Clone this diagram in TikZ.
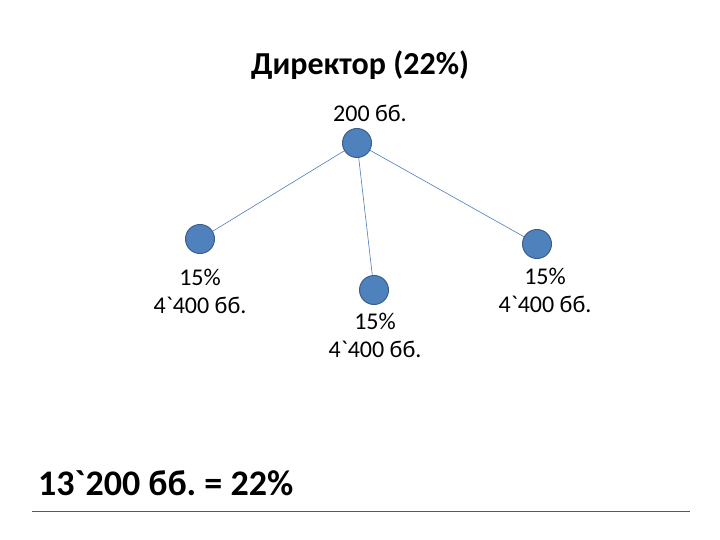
\documentclass[tikz,border=0pt]{standalone}
\usepackage{fontspec}
\setmainfont{Carlito}
\usetikzlibrary{positioning}
\definecolor{dotfill}{HTML}{4F81BD}
\definecolor{dotline}{HTML}{3A5F8C}
\definecolor{linkblue}{HTML}{4A7EBB}
\definecolor{rulered}{HTML}{8E3F52}
\tikzset{dot/.style={circle,fill=dotfill,draw=dotline,line width=1pt,
        minimum size=29pt,inner sep=0pt},
    share/.style={align=center,inner sep=0pt,font=\fontsize{24}{28}\selectfont},
    link/.style={draw=linkblue,line width=0.6pt},
    }
\newcommand{\tick}{\textasciigrave}
\frenchspacing

\begin{document}
\begin{tikzpicture}[x=1pt,y=-1pt]
\useasboundingbox (0,0) rectangle (720,540);
\node[font=\bfseries\fontsize{32}{38}\selectfont,inner sep=0pt,anchor=base] (title) at (360,75) {Директор (22\%)};
\node[share,anchor=base] (bosspay) at (370,122) {200 бб.};
\node[dot] (boss) at (357,143) {};
% staff
\node[dot] (left) at (200,239) {};
\node[dot] (mid) at (374,290) {};
\node[dot] (right) at (537,244) {};
\node[share] (leftpay) at (200,291) {15\%\\4\tick400 бб.};
\node[share] (midpay) at (375,335) {15\%\\4\tick400 бб.};
\node[share] (rightpay) at (545,290) {15\%\\4\tick400 бб.};
\draw[link] (boss) -- (left);
\draw[link] (boss) -- (mid);
\draw[link] (boss) -- (right);
% total
\node[font=\bfseries\fontsize{36}{43}\selectfont,inner sep=0pt,anchor=base west] (total) at (38,495) {13\tick200 бб. = 22\%};
\coordinate (rulea) at (32,511);
\coordinate (ruleb) at (690,511);
\draw[rulered,line width=0.8pt] (rulea) -- (ruleb);
\end{tikzpicture}
\end{document}
